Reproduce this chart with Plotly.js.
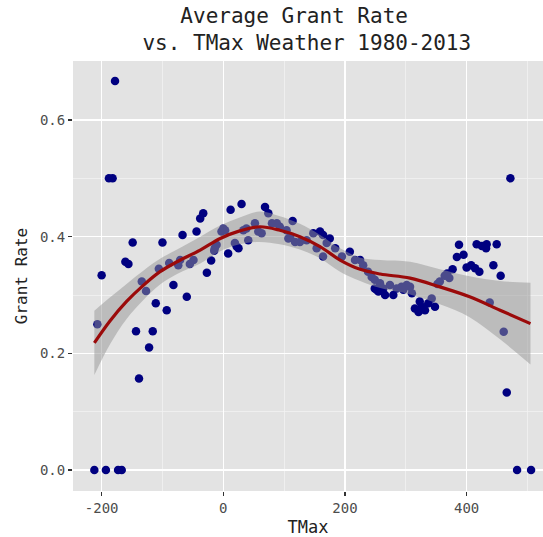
<!DOCTYPE html>
<html>
<head>
<meta charset="utf-8">
<script src="https://cdn.plot.ly/plotly-3.0.1.min.js"></script>
<style>html,body{margin:0;padding:0;background:#fff;overflow:hidden;}</style>
</head>
<body>
<div id="chart" style="width:543px;height:537px;"></div>
<script>
// Scatter points: average grant rate per TMax value
var tmax = [-212,-193,-173,-167,-207,-200,-188,-182,-178,-161,-156,-149,-143.5,-138.6,-134,-127,-122,-116,-111,-106,
  -100,-93,-89,-82,-74,-71,-67,-60,-55,-49,-44,-38,-33,-27,-20,-15,-14,-11,-3,0,
  3,8,12,19,22,25,30,33,38,41,52,57.5,63,68.6,74,80,88,93,104,107,
  110,114,118,126,137,148,153.5,159,164,164,170,175,184,195,208,216.5,225,230,238,244,
  249,252,257.6,249,255,263,266,274,279.5,285,293,296,301.5,307,310,315,321,323,326,331.6,
  337,342.6,348,352,356,364,368,371.6,377,384,387.5,395,400,407.5,414,416.5,421,425,432,433,
  438,444,449.5,456,461,466,472,483,506];
var grantRate = [0,0,0,0,0.25,0.334,0.5,0.5,0.667,0.357,0.353,0.39,0.238,0.157,0.323,0.307,0.21,0.238,0.286,0.345,
  0.39,0.274,0.355,0.317,0.351,0.36,0.403,0.297,0.353,0.36,0.409,0.431,0.44,0.338,0.359,0.376,0.38,0.386,0.409,0.414,
  0.411,0.371,0.446,0.389,0.383,0.38,0.456,0.411,0.414,0.394,0.423,0.409,0.406,0.451,0.44,0.423,0.423,0.417,0.411,0.397,
  0.4,0.427,0.391,0.391,0.394,0.406,0.38,0.409,0.403,0.366,0.389,0.397,0.38,0.366,0.374,0.36,0.36,0.351,0.34,0.331,
  0.326,0.309,0.32,0.311,0.306,0.311,0.3,0.317,0.3,0.311,0.314,0.309,0.317,0.314,0.303,0.277,0.271,0.289,0.28,0.274,
  0.286,0.294,0.28,0.319,0.323,0.333,0.337,0.329,0.344,0.365,0.386,0.369,0.347,0.351,0.346,0.387,0.34,0.384,0.38,0.387,
  0.287,0.351,0.387,0.333,0.237,0.133,0.5,0,0];

// Smoothed (loess) fit and its confidence band
var smoothX  = [-212,-186,-159,-131,-104,-76,-38,-5,27,60,93,126,159,192,225,258,307,356,405,455,505];
var smoothY  = [0.218,0.256,0.289,0.317,0.34,0.357,0.377,0.397,0.41,0.417,0.411,0.4,0.383,0.36,0.344,0.336,0.329,0.314,0.297,0.274,0.251];
var smoothLo = [0.163,0.216,0.259,0.292,0.318,0.336,0.354,0.375,0.387,0.391,0.387,0.378,0.363,0.34,0.324,0.312,0.301,0.284,0.262,0.224,0.181];
var smoothHi = [0.273,0.296,0.319,0.342,0.362,0.378,0.4,0.419,0.433,0.443,0.435,0.422,0.403,0.38,0.364,0.36,0.357,0.344,0.332,0.324,0.321];

var xTicks = [-200, 0, 200, 400];
var yTicks = [0, 0.2, 0.4, 0.6];
var yTickText = ["0.0", "0.2", "0.4", "0.6"];

var mono = "DejaVu Sans Mono, Liberation Mono, monospace";

var traces = [
  {x: tmax, y: grantRate, type: "scatter", mode: "markers",
   marker: {color: "#000080", size: 8.5, line: {width: 0}}, hoverinfo: "x+y"},
  {x: smoothX, y: smoothLo, type: "scatter", mode: "lines",
   line: {width: 0, shape: "spline", color: "rgba(0,0,0,0)"}, hoverinfo: "skip"},
  {x: smoothX, y: smoothHi, type: "scatter", mode: "lines", fill: "tonexty",
   fillcolor: "rgba(150,150,150,0.5)",
   line: {width: 0, shape: "spline", color: "rgba(0,0,0,0)"}, hoverinfo: "skip"},
  {x: smoothX, y: smoothY, type: "scatter", mode: "lines",
   line: {color: "#9b0a0a", width: 3.2, shape: "spline"}, hoverinfo: "skip"}
];

var layout = {
  width: 543, height: 537,
  showlegend: false,
  paper_bgcolor: "#ffffff",
  plot_bgcolor: "#e3e3e3",
  margin: {l: 73, r: 0, t: 61, b: 46, pad: 0},
  title: {
    text: "Average Grant Rate\u00A0\u00A0<br>vs. TMax Weather 1980-2013",
    font: {family: mono, size: 21, color: "#222222"},
    x: 0.565, xanchor: "center", xref: "container",
    y: 0.957, yanchor: "middle", yref: "container"
  },
  xaxis: {
    range: [-247.1, 525.6],
    tickvals: xTicks, ticktext: xTicks.map(String),
    showgrid: true, gridcolor: "#ffffff", gridwidth: 1.5,
    minor: {dtick: 100, tick0: 0, showgrid: true, gridcolor: "#f4f4f4", gridwidth: 0.7, ticklen: 0},
    zeroline: false, showline: false,
    ticks: "outside", ticklen: 4, tickwidth: 1.5, tickcolor: "#333333",
    tickfont: {family: mono, size: 14, color: "#4d4d4d"},
    title: {text: "TMax", font: {family: mono, size: 17, color: "#222222"}, standoff: 7},
    automargin: false, fixedrange: true
  },
  yaxis: {
    range: [-0.036, 0.7012],
    tickvals: yTicks, ticktext: yTickText,
    showgrid: true, gridcolor: "#ffffff", gridwidth: 1.5,
    minor: {dtick: 0.1, tick0: 0, showgrid: true, gridcolor: "#f4f4f4", gridwidth: 0.7, ticklen: 0},
    zeroline: false, showline: false,
    ticks: "outside", ticklen: 4, tickwidth: 1.5, tickcolor: "#333333",
    tickfont: {family: mono, size: 14, color: "#4d4d4d"},
    title: {text: "Grant Rate", font: {family: mono, size: 16, color: "#222222"}, standoff: 8},
    automargin: false, fixedrange: true
  }
};

Plotly.newPlot("chart", traces, layout, {displayModeBar: false, staticPlot: true});
</script>
</body>
</html>
